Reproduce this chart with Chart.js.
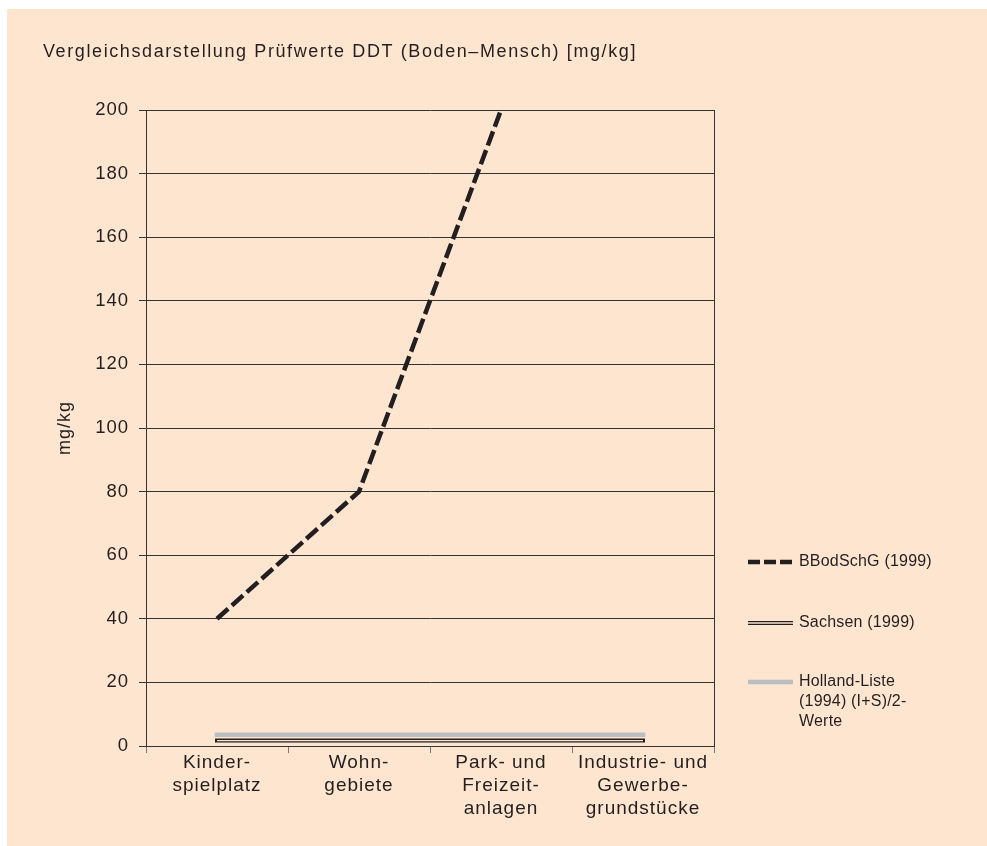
<!DOCTYPE html>
<html lang="de">
<head>
<meta charset="utf-8">
<title>Prüfwerte DDT</title>
<script src="https://cdn.jsdelivr.net/npm/chart.js@4"></script>
<style>
    body { margin: 0; background: #ffffff; overflow: hidden; }
    #hintergrund { position: absolute; left: 7px; top: 9px; right: 0; bottom: 0; background: #fee5cf; }
    #diagramm { position: absolute; left: 0; top: 0; }
</style>
</head>
<body>
<div id="hintergrund"></div>
<canvas id="diagramm" width="987" height="846"></canvas>
<script>
var titel = "Vergleichsdarstellung Prüfwerte DDT (Boden–Mensch) [mg/kg]"
var kategorien = [
    ["Kinder-", "spielplatz"],
    ["Wohn-", "gebiete"],
    ["Park- und", "Freizeit-", "anlagen"],
    ["Industrie- und", "Gewerbe-", "grundstücke"]
]
// BBodSchV-Wert fuer Industrie liegt ueber der Achse (400) und wird abgeschnitten
var werteBBodSchG = [40, 80, 200, 400]
var werteSachsen = [1.7, 1.7, 1.7, 1.7]
var werteHolland = [3.5, 3.5, 3.5, 3.5]

var legendeTexte = {
    bbod: ["BBodSchG (1999)"],
    sachsen: ["Sachsen (1999)"],
    holland: ["Holland-Liste", "(1994) (I+S)/2-", "Werte"]
}

var yMin = 0
var yMax = 200
var ySchritt = 20

var textFarbe = "#231f20"
var linienFarbe = "#333333"
var grauFarbe = "#b9bdc4"
var papierFarbe = "#fee5cf"

Chart.defaults.font.family = '"Liberation Sans", Arial, sans-serif'
Chart.defaults.color = textFarbe

// Sperrung der Schrift wie im Original
const sperrung = {
    id: "sperrung",
    beforeUpdate(chart) { chart.ctx.letterSpacing = "1px" },
    beforeDraw(chart) { chart.ctx.letterSpacing = "1px" }
}

const titelUndLegende = {
    id: "titelUndLegende",
    afterDraw(chart) {
        const ctx = chart.ctx
        ctx.save()
        ctx.letterSpacing = "1.6px"
        ctx.font = '18px "Liberation Sans", Arial, sans-serif'
        ctx.fillStyle = textFarbe
        ctx.textBaseline = "alphabetic"
        ctx.textAlign = "left"
        ctx.fillText(titel, 43, 57)

        const x0 = 748
        const x1 = 793
        const eintraege = [
            { y: 562, texte: legendeTexte.bbod, art: "strich" },
            { y: 623, texte: legendeTexte.sachsen, art: "doppelt" },
            { y: 682, texte: legendeTexte.holland, art: "grau" }
        ]
        ctx.letterSpacing = "0.2px"
        ctx.font = '16px "Liberation Sans", Arial, sans-serif'
        ctx.textBaseline = "middle"
        for (var i = 0; i < eintraege.length; i++) {
            const e = eintraege[i]
            ctx.beginPath()
            ctx.moveTo(x0, e.y)
            ctx.lineTo(x1, e.y)
            if (e.art == "strich") {
                ctx.setLineDash([12, 4])
                ctx.lineWidth = 4.5
                ctx.strokeStyle = textFarbe
                ctx.stroke()
                ctx.setLineDash([])
            } else if (e.art == "doppelt") {
                ctx.lineWidth = 4
                ctx.strokeStyle = textFarbe
                ctx.stroke()
                ctx.lineWidth = 1.4
                ctx.strokeStyle = papierFarbe
                ctx.stroke()
            } else {
                ctx.lineWidth = 4.5
                ctx.strokeStyle = grauFarbe
                ctx.stroke()
            }
            for (var z = 0; z < e.texte.length; z++) {
                ctx.fillStyle = textFarbe
                ctx.fillText(e.texte[z], 799, e.y + z * 20)
            }
        }
        ctx.restore()
    }
}

const config = {
    type: "line",
    data: {
        labels: kategorien,
        datasets: [
            {
                label: "BBodSchG (1999)",
                data: werteBBodSchG,
                borderColor: textFarbe,
                borderWidth: 4.5,
                borderDash: [15, 5],
                pointRadius: 0,
                order: 0
            },
            {
                label: "Sachsen (1999)",
                data: werteSachsen,
                borderColor: textFarbe,
                borderWidth: 4,
                borderCapStyle: "square",
                pointRadius: 0,
                order: 2
            },
            {
                // heller Mittelstrich fuer die Doppellinie
                label: "",
                data: werteSachsen,
                borderColor: papierFarbe,
                borderWidth: 1.4,
                pointRadius: 0,
                order: 1
            },
            {
                label: "Holland-Liste (1994) (I+S)/2-Werte",
                data: werteHolland,
                borderColor: grauFarbe,
                borderWidth: 4.5,
                borderCapStyle: "square",
                pointRadius: 0,
                order: 3
            }
        ]
    },
    options: {
        responsive: false,
        devicePixelRatio: 1,
        animation: false,
        layout: { padding: { left: 43, right: 273, top: 110, bottom: 0 } },
        plugins: {
            legend: { display: false },
            title: { display: false },
            tooltip: { enabled: false }
        },
        scales: {
            x: {
                type: "category",
                offset: true,
                grid: { offset: true, drawOnChartArea: false, drawTicks: true, tickLength: 7, color: "#777777" },
                border: { display: true, color: linienFarbe },
                ticks: {
                    maxRotation: 0,
                    autoSkip: false,
                    padding: -2,
                    font: { size: 19, lineHeight: 1.21 },
                    color: textFarbe
                },
                afterFit(scale) { scale.height = 100 }
            },
            y: {
                min: yMin,
                max: yMax,
                ticks: { stepSize: ySchritt, padding: 10, font: { size: 18.5 }, color: textFarbe },
                grid: { color: linienFarbe, lineWidth: 1, tickLength: 7 },
                border: { display: true, color: linienFarbe },
                title: { display: true, text: "mg/kg", font: { size: 18 }, padding: { top: 11, bottom: 0 }, color: textFarbe },
                afterFit(scale) { scale.width = 103 }
            },
            y2: {
                position: "right",
                min: yMin,
                max: yMax,
                ticks: { display: false },
                grid: { display: false },
                border: { display: true, color: linienFarbe },
                afterFit(scale) { scale.width = 0 }
            }
        }
    },
    plugins: [sperrung, titelUndLegende]
}

const meinDiagramm = new Chart(document.getElementById("diagramm"), config)
</script>
</body>
</html>
